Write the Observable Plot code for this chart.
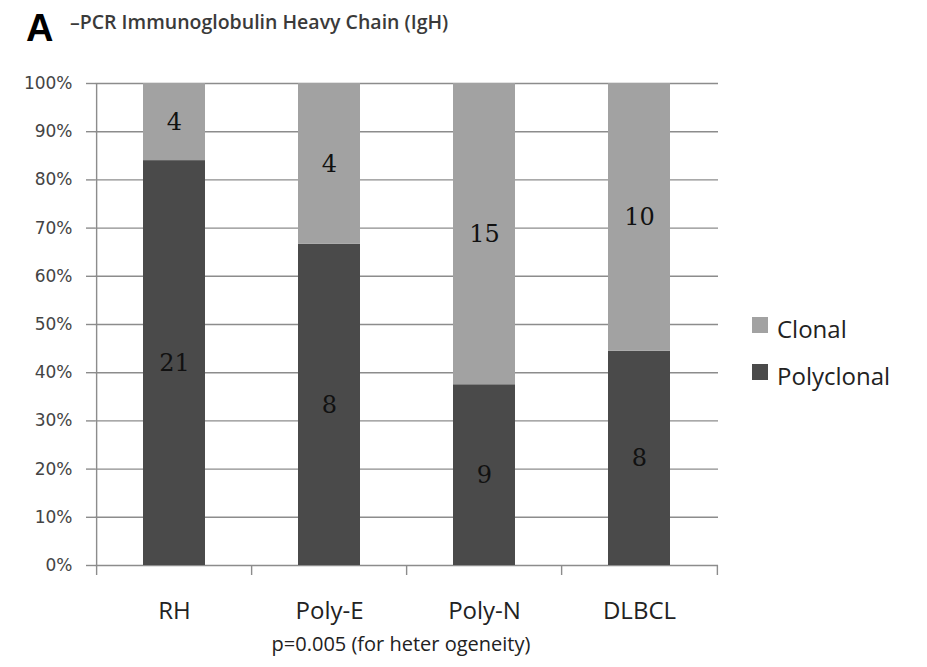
<!DOCTYPE html>
<html>
<head>
<meta charset="utf-8">
<script src="https://cdn.jsdelivr.net/npm/d3@7"></script>
<script src="https://cdn.jsdelivr.net/npm/@observablehq/plot@0.6"></script>
<style>
  html, body { margin: 0; padding: 0; background: #fff; }
  #page { position: relative; width: 927px; height: 667px; overflow: hidden; background: #fff; }
  .abs { position: absolute; white-space: nowrap; line-height: 1; }
  #panel { left: 26px; top: 7px; font: bold 38px "Liberation Sans", Arial, sans-serif; color: #000; }
  #title { left: 70px; top: 8px; font: 600 19.5px "Open Sans", sans-serif; color: #3a3a3a; }
  #chart { position: absolute; left: 0; top: 50px; }
  #legend { left: 752px; top: 305px; font: 24px "Open Sans", sans-serif; color: #222; }
  #legend .item { display: flex; align-items: center; height: 47px; }
  #legend .swatch { width: 16px; height: 16px; margin-right: 9px; margin-top: -8px; }
  #caption { left: 401px; top: 630px; transform: translateX(-50%); font: 20px "Open Sans", sans-serif; color: #222; }
</style>
</head>
<body>
<div id="page">
  <div id="panel" class="abs">A</div>
  <div id="title" class="abs">–PCR Immunoglobulin Heavy Chain (IgH)</div>
  <div id="chart"></div>
  <div id="legend" class="abs"></div>
  <div id="caption" class="abs">p=0.005 (for heter ogeneity)</div>
</div>
<script>
// Lesion groups and the number of cases with each IgH PCR result
const groups = ["RH", "Poly-E", "Poly-N", "DLBCL"];
const polyclonal = [21, 8, 9, 8];
const clonal = [4, 4, 15, 10];
const seriesNames = ["Clonal", "Polyclonal"];
const seriesColors = ["#a2a2a2", "#4a4a4a"];
const yTicks = [0, 0.1, 0.2, 0.3, 0.4, 0.5, 0.6, 0.7, 0.8, 0.9, 1];

const rows = groups.flatMap((g, i) => [
  {group: g, type: "Polyclonal", count: polyclonal[i]},
  {group: g, type: "Clonal", count: clonal[i]}
]);

const W = 927, H = 590;
const mL = 95, mR = 209, mT = 33, mB = 75;
const step = (W - mL - mR) / groups.length; // width of one category slot
const axisGray = "#8c8c8c";
const stackOrder = ["Polyclonal", "Clonal"];

const chart = Plot.plot({
  width: W,
  height: H,
  marginLeft: mL,
  marginRight: mR,
  marginTop: mT,
  marginBottom: mB,
  style: {background: "#fff"},
  x: {domain: groups, paddingInner: 0.6, paddingOuter: 0.3, label: null},
  y: {domain: [0, 1], label: null},
  color: {domain: seriesNames, range: seriesColors},
  marks: [
    Plot.gridY(yTicks, {stroke: axisGray, strokeOpacity: 1, strokeWidth: 1.4}),
    Plot.axisY(yTicks, {
      tickFormat: d3.format(".0%"), tickSize: 9, tickPadding: 14,
      stroke: axisGray, strokeWidth: 1.4,
      fontSize: 17, fontFamily: "DejaVu Sans", fill: "#444", label: null
    }),
    Plot.axisX({
      tickSize: 0, tickPadding: 36, fontSize: 24,
      fontFamily: "Open Sans", fill: "#222", label: null
    }),
    // vertical axis line on the left edge of the first slot
    Plot.ruleX([groups[0]], {x: d => d, y1: 1, y2: 0, dx: -step / 2, stroke: axisGray, strokeWidth: 1.4}),
    // category boundary ticks hanging below the baseline
    Plot.ruleX(groups, {x: d => d, y1: 0, y2: 0, dx: -step / 2, insetBottom: -10, stroke: axisGray, strokeWidth: 1.4}),
    Plot.ruleX([groups[groups.length - 1]], {x: d => d, y1: 0, y2: 0, dx: step / 2, insetBottom: -10, stroke: axisGray, strokeWidth: 1.4}),
    Plot.barY(rows, {x: "group", y: "count", fill: "type", order: stackOrder, offset: "normalize"}),
    Plot.text(rows, Plot.stackY({
      x: "group", y: "count", z: "type", order: stackOrder, offset: "normalize",
      text: d => String(d.count),
      fontSize: 24, fontFamily: "DejaVu Serif", fill: "#111"
    }))
  ]
});
document.getElementById("chart").appendChild(chart);

// Legend: series listed top to bottom, Clonal first
const legend = d3.select("#legend");
seriesNames.forEach((name, i) => {
  const item = legend.append("div").attr("class", "item");
  item.append("div").attr("class", "swatch").style("background", seriesColors[i]);
  item.append("span").text(name);
});
</script>
</body>
</html>
